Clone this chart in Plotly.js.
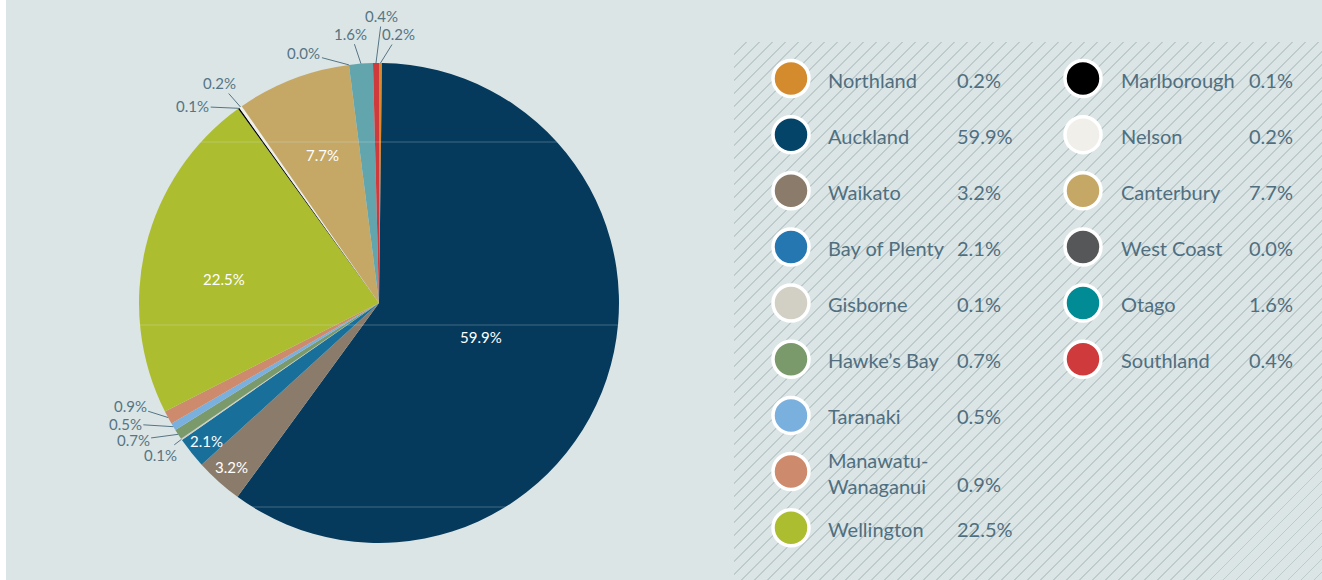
<!DOCTYPE html>
<html>
<head>
<meta charset="utf-8">
<script src="https://cdn.plot.ly/plotly-3.0.1.min.js"></script>
<style>
  html, body { margin: 0; padding: 0; }
  body { width: 1322px; height: 580px; overflow: hidden; background: #dce5e6; position: relative; font-family: Lato, "Open Sans", sans-serif; }
  #strip { position: absolute; left: 0; top: 0; width: 6px; height: 580px; background: #ffffff; }
  #hatch { position: absolute; left: 734px; top: 42px; width: 588px; height: 538px;
    background: repeating-linear-gradient(135deg, #dce5e6 0px, #dce5e6 7.9px, #bdcbcd 7.9px, #bdcbcd 9.2px); }
  #chart { position: absolute; left: 0; top: 0; width: 1322px; height: 580px; }
</style>
</head>
<body>
<div id="strip"></div>
<div id="hatch"></div>
<div id="chart"></div>
<script>
// ---- data ----
const regions = ["Northland", "Auckland", "Waikato", "Bay of Plenty", "Gisborne", "Hawke's Bay",
  "Taranaki", "Manawatu-Wanaganui", "Wellington", "Marlborough", "Nelson", "Canterbury",
  "West Coast", "Otago", "Southland"];
const legendNames = ["Northland", "Auckland", "Waikato", "Bay of Plenty", "Gisborne", "Hawke\u2019s Bay",
  "Taranaki", "Manawatu-<br>Wanaganui", "Wellington", "Marlborough", "Nelson", "Canterbury",
  "West Coast", "Otago", "Southland"];
const shares = [0.2, 59.9, 3.2, 2.1, 0.1, 0.7, 0.5, 0.9, 22.5, 0.1, 0.2, 7.7, 0.0, 1.6, 0.4];

// ---- styles ----
const sliceColors = ["#d38b2e", "#053a5c", "#8b7b6b", "#18709a", "#d2d0c4", "#7a9a6c",
  "#7ab0de", "#cd8a6c", "#adbd30", "#000000", "#f0efea", "#c6a866", "#555759", "#62a5ad", "#cf3a3c"];
const legendColors = ["#d38b2e", "#034468", "#8b7b6b", "#2477b0", "#d2d0c4", "#7a9a6c",
  "#7ab0de", "#cd8a6c", "#adbd30", "#000000", "#f0efea", "#c6a866", "#555759", "#008b95", "#cf3a3c"];
// inside labels: [radius fraction, angle tweak in degrees]
const insidePos = {1: [0.45, 0], 2: [0.92, 0], 3: [0.92, 0], 8: [0.653, -4.8], 11: [0.66, 0]};
// outside label offsets (px) from slice rim midpoint
const outsideOffsets = {0: [18, -29], 4: [-21, 16], 5: [-45, 6], 6: [-48, -3], 7: [-38, -12],
  9: [-46, -2], 10: [-21, -24], 12: [-45, -12], 13: [-10, -30], 14: [6, -47]};

const W = 1322, H = 580;
const cx = 379, cy = 303, R = 240;
const labelText = shares.map(v => v.toFixed(1) + "%");
const textColor = "#4f6f80";
const font = "Lato, 'Open Sans', sans-serif";

const pie = {
  type: "pie",
  values: shares,
  labels: regions,
  text: labelText,
  textinfo: "none",
  sort: false,
  direction: "clockwise",
  rotation: 0,
  marker: {colors: sliceColors, line: {width: 0}},
  domain: {x: [(cx - R) / W, (cx + R) / W], y: [1 - (cy + R) / H, 1 - (cy - R) / H]},
  showlegend: false,
  hoverinfo: "label+text"
};

// legend layout
const col1 = 9;
const rowY = i => 78.5 + i * 56.15;
const legX = [], legY = [];
regions.forEach((r, i) => {
  const c = i < col1 ? 0 : 1;
  const row = i < col1 ? i : i - col1;
  legX.push(c === 0 ? 791 : 1083);
  legY.push(rowY(row));
});
const legendMarks = {
  type: "scatter", mode: "markers", x: legX, y: legY,
  marker: {size: 36, color: legendColors, line: {color: "#ffffff", width: 3.5}},
  showlegend: false, hoverinfo: "skip", xaxis: "x", yaxis: "y", cliponaxis: false
};

const annotations = [];
regions.forEach((r, i) => {
  const c = i < col1 ? 0 : 1;
  const nameX = c === 0 ? 826 : 1119;
  const valX = c === 0 ? 955 : 1247;
  const twoLine = legendNames[i].includes("<br>");
  annotations.push({x: nameX, y: legY[i] + 1, xref: "x", yref: "y", text: legendNames[i],
    showarrow: false, xanchor: "left", yanchor: "middle", align: "left",
    font: {family: font, size: 20, color: textColor}});
  annotations.push({x: valX, y: legY[i] + 1 + (twoLine ? 11 : 0), xref: "x", yref: "y", text: labelText[i],
    showarrow: false, xanchor: "left", yanchor: "middle",
    font: {family: font, size: 20, color: textColor}});
});

// pie labels, placed from each slice's mid-angle
const total = shares.reduce((a, b) => a + b, 0);
let cum = 0;
shares.forEach((v, i) => {
  const midDeg = (cum + v / 2) / total * 360;
  cum += v;
  if (insidePos[i]) {
    const a = (midDeg + insidePos[i][1]) * Math.PI / 180;
    const rr = R * insidePos[i][0];
    annotations.push({x: cx + rr * Math.sin(a), y: cy - rr * Math.cos(a), xref: "x", yref: "y",
      text: labelText[i], showarrow: false, xanchor: "center", yanchor: "middle",
      font: {family: font, size: 15, color: "#ffffff"}});
  }
  if (outsideOffsets[i]) {
    const a = midDeg * Math.PI / 180;
    const tx = cx + R * Math.sin(a), ty = cy - R * Math.cos(a);
    annotations.push({x: tx, y: ty, xref: "x", yref: "y", text: labelText[i],
      showarrow: true, arrowhead: 0, arrowwidth: 1, arrowcolor: "#557585", standoff: 0,
      ax: outsideOffsets[i][0], ay: outsideOffsets[i][1],
      font: {family: font, size: 15, color: "#557585"}});
  }
});

const shapes = [142, 325, 507].map(yy => ({
  type: "line", xref: "x", yref: "y", x0: 130, x1: 625, y0: yy, y1: yy,
  line: {color: "rgba(220,229,230,0.28)", width: 1}, layer: "above"
}));

const layout = {
  width: W, height: H,
  margin: {l: 0, r: 0, t: 0, b: 0},
  paper_bgcolor: "rgba(0,0,0,0)",
  plot_bgcolor: "rgba(0,0,0,0)",
  xaxis: {range: [0, W], domain: [0, 1], visible: false, fixedrange: true},
  yaxis: {range: [H, 0], domain: [0, 1], visible: false, fixedrange: true},
  annotations: annotations,
  shapes: shapes,
  showlegend: false
};

Plotly.newPlot("chart", [pie, legendMarks], layout, {displayModeBar: false, staticPlot: true});
</script>
</body>
</html>
